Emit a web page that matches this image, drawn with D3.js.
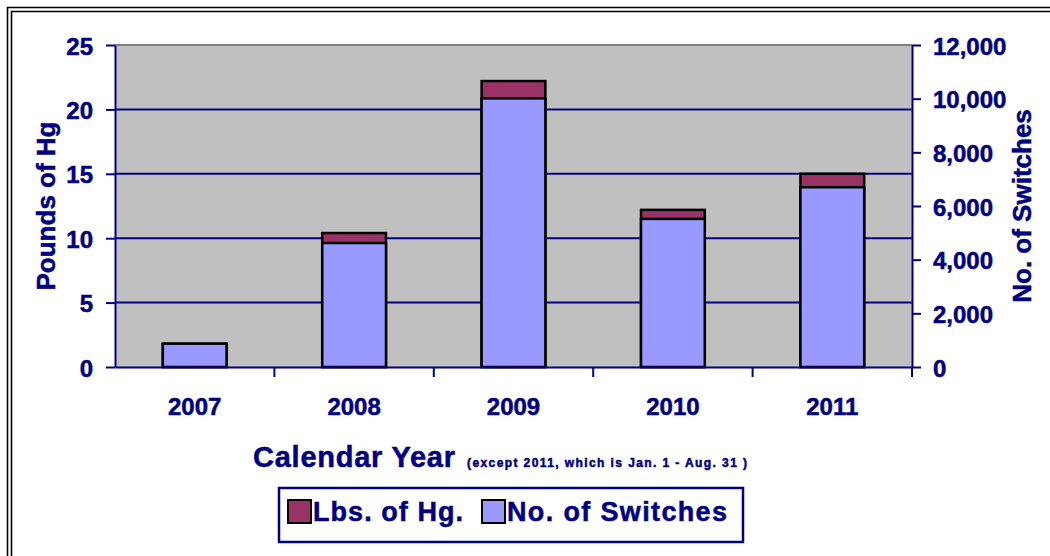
<!DOCTYPE html>
<html>
<head>
<meta charset="utf-8">
<script src="https://cdn.jsdelivr.net/npm/d3@7"></script>
<style>
  body { margin: 0; background: #fff; }
  svg { display: block; font-family: "Liberation Sans", Arial, sans-serif; }
  svg text { stroke: #000080; stroke-width: 0.5px; }
  .axis text { fill: #000080; font-weight: bold; font-size: 24px; }
  .axis path, .axis line { stroke: #000080; stroke-width: 2; }
</style>
</head>
<body>
<svg width="1050" height="556"></svg>
<script>
// values
var years = ["2007", "2008", "2009", "2010", "2011"];
var hgLbs = [1.8, 10.4, 22.2, 12.2, 15.0];
var switchCounts = [870, 4620, 10010, 5520, 6700];
var hgTicks = [0, 5, 10, 15, 20, 25];
var switchTicks = [0, 2000, 4000, 6000, 8000, 10000, 12000];

var navy = "#000080";
var svg = d3.select("svg");

// double frame, left and top only
[7.5, 11.5].forEach(function(o) {
  svg.append("path")
    .attr("d", "M" + o + ",556V" + o + "H1050")
    .attr("fill", "none")
    .attr("stroke", "#000")
    .attr("stroke-width", 1.6);
});

var plotL = 115, plotR = 912, plotT = 45, plotB = 367;

var x = d3.scaleBand().domain(years).range([plotL, plotR]);
var yL = d3.scaleLinear().domain([0, 25]).range([plotB, plotT]);
var yR = d3.scaleLinear().domain([0, 12000]).range([plotB, plotT]);

// plot area
svg.append("rect")
  .attr("x", plotL).attr("y", plotT)
  .attr("width", plotR - plotL).attr("height", plotB - plotT)
  .attr("fill", "#c0c0c0");
svg.append("line")
  .attr("x1", plotL).attr("x2", plotR)
  .attr("y1", plotT).attr("y2", plotT)
  .attr("stroke", "#808080").attr("stroke-width", 2);

svg.selectAll(".grid")
  .data(hgTicks.filter(function(d) { return d > 0 && d < 25; }))
  .enter().append("line")
    .attr("class", "grid")
    .attr("x1", plotL).attr("x2", plotR)
    .attr("y1", function(d) { return yL(d); })
    .attr("y2", function(d) { return yL(d); })
    .attr("stroke", navy).attr("stroke-width", 2);

var bw = x.bandwidth() * 0.4;

// Hg on primary axis, drawn behind
svg.selectAll(".hg")
  .data(years)
  .enter().append("rect")
    .attr("class", "hg")
    .attr("x", function(d) { return x(d) + (x.bandwidth() - bw) / 2; })
    .attr("y", function(d, i) { return yL(hgLbs[i]); })
    .attr("width", bw)
    .attr("height", function(d, i) { return plotB - yL(hgLbs[i]); })
    .attr("fill", "#993366")
    .attr("stroke", "#000").attr("stroke-width", 2.5);

// switches on secondary axis, drawn in front
svg.selectAll(".sw")
  .data(years)
  .enter().append("rect")
    .attr("class", "sw")
    .attr("x", function(d) { return x(d) + (x.bandwidth() - bw) / 2; })
    .attr("y", function(d, i) { return yR(switchCounts[i]); })
    .attr("width", bw)
    .attr("height", function(d, i) { return plotB - yR(switchCounts[i]); })
    .attr("fill", "#9999ff")
    .attr("stroke", "#000").attr("stroke-width", 2.5);

// axes
svg.append("g")
  .attr("class", "axis")
  .attr("transform", "translate(" + plotL + ",0)")
  .call(d3.axisLeft(yL).tickValues(hgTicks).tickSize(9).tickSizeOuter(0).tickPadding(13))
  .selectAll("text").attr("dy", "0.38em");

svg.append("g")
  .attr("class", "axis")
  .attr("transform", "translate(" + plotR + ",0)")
  .call(d3.axisRight(yR).tickValues(switchTicks).tickFormat(d3.format(",")).tickSize(9).tickSizeOuter(0).tickPadding(12))
  .selectAll("text").attr("dy", "0.38em");

var xa = svg.append("g")
  .attr("class", "axis")
  .attr("transform", "translate(0," + plotB + ")")
  .call(d3.axisBottom(x).tickSize(0).tickSizeOuter(0).tickPadding(31));

xa.selectAll(".bound")
  .data(years)
  .enter().append("line")
    .attr("class", "bound")
    .attr("x1", function(d) { return x(d) + x.bandwidth(); })
    .attr("x2", function(d) { return x(d) + x.bandwidth(); })
    .attr("y1", 0).attr("y2", 10);

// axis titles
svg.append("text")
  .attr("transform", "translate(55,206) rotate(-90)")
  .attr("text-anchor", "middle")
  .attr("fill", navy).attr("font-weight", "bold").attr("font-size", 26)
  .text("Pounds of Hg");

svg.append("text")
  .attr("transform", "translate(1031,206) rotate(-90)")
  .attr("text-anchor", "middle")
  .attr("fill", navy).attr("font-weight", "bold").attr("font-size", 26)
  .text("No. of Switches");

svg.append("text")
  .attr("x", 253).attr("y", 467)
  .attr("fill", navy).attr("font-weight", "bold").attr("font-size", 29)
  .attr("textLength", 202).attr("lengthAdjust", "spacing")
  .text("Calendar Year");

svg.append("text")
  .attr("x", 467).attr("y", 467)
  .attr("fill", navy).attr("font-weight", "bold").attr("font-size", 12)
  .attr("stroke-width", 0.2)
  .attr("textLength", 280).attr("lengthAdjust", "spacing")
  .text("(except 2011, which is Jan. 1 - Aug. 31 )");

// legend
svg.append("rect")
  .attr("x", 279).attr("y", 488).attr("width", 464).attr("height", 54)
  .attr("fill", "#fff").attr("stroke", navy).attr("stroke-width", 2.5);

var legendItems = [
  { name: "Lbs. of Hg.", color: "#993366", x: 288, w: 150 },
  { name: "No. of Switches", color: "#9999ff", x: 482, w: 220 }
];
var lg = svg.selectAll(".leg")
  .data(legendItems)
  .enter().append("g")
    .attr("class", "leg");
lg.append("rect")
  .attr("x", function(d) { return d.x; }).attr("y", 500)
  .attr("width", 23).attr("height", 23)
  .attr("fill", function(d) { return d.color; })
  .attr("stroke", "#000").attr("stroke-width", 2);
lg.append("text")
  .attr("x", function(d) { return d.x + 25; }).attr("y", 521)
  .attr("fill", navy).attr("font-weight", "bold").attr("font-size", 27)
  .attr("textLength", function(d) { return d.w; }).attr("lengthAdjust", "spacing")
  .text(function(d) { return d.name; });
</script>
</body>
</html>
